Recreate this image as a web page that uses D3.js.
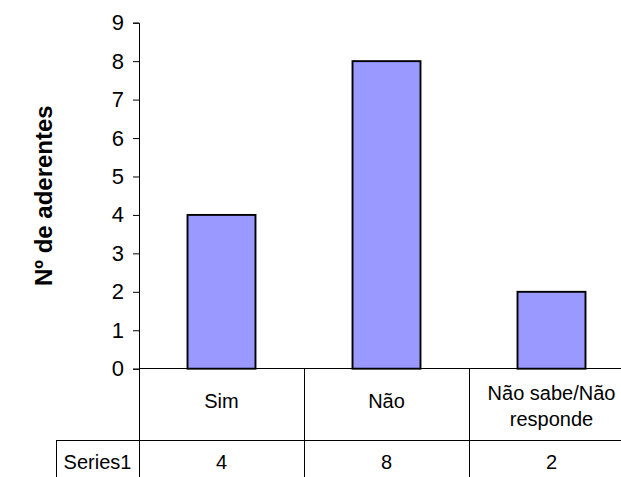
<!DOCTYPE html>
<html>
<head>
<meta charset="utf-8">
<script src="https://cdn.jsdelivr.net/npm/d3@7"></script>
<style>
  html, body { margin: 0; padding: 0; background: #fff; }
  svg { display: block; font-family: "Liberation Sans", Arial, sans-serif; }
</style>
</head>
<body>
<svg id="chart" width="621" height="477"></svg>
<script>
// Survey answers: number of members per answer
const categories = ["Sim", "Não", "Não sabe/Não responde"];
const categoryLines = [["Sim"], ["Não"], ["Não sabe/Não", "responde"]];
const seriesName = "Series1";
const values = [4, 8, 2];
const yTicks = [0, 1, 2, 3, 4, 5, 6, 7, 8, 9];
const yTitle = "Nº de aderentes";

const svg = d3.select("#chart");
const W = 621, H = 477;

const plot = { left: 139, right: 634, top: 22.7, bottom: 368.7 };
const rowTop = 440;
const headerLeft = 56;

// Category cells of the data table (no padding)
const xCell = d3.scaleBand().domain(categories).range([plot.left, plot.right]).padding(0);
// Bars sit inside the same categories with wide gaps
const xBar = d3.scaleBand().domain(categories).range([plot.left, plot.right])
  .paddingInner(0.588).paddingOuter(0.294);
const y = d3.scaleLinear().domain([0, 9]).range([plot.bottom, plot.top]);

// Bars
svg.append("g").selectAll("rect")
  .data(values)
  .join("rect")
  .attr("x", (d, i) => xBar(categories[i]))
  .attr("y", d => y(d))
  .attr("width", xBar.bandwidth())
  .attr("height", d => y(0) - y(d))
  .attr("fill", "#9999FF")
  .attr("stroke", "#000")
  .attr("stroke-width", 1.9);

// Value axis
const yAxis = d3.axisLeft(y).tickValues(yTicks).tickSize(6).tickPadding(9).tickFormat(d3.format("d"));
const gy = svg.append("g").attr("transform", `translate(${plot.left},0)`).call(yAxis);
gy.select(".domain").attr("stroke", "#000").attr("stroke-width", 1);
gy.selectAll(".tick line").attr("stroke", "#000");
gy.selectAll(".tick text")
  .attr("fill", "#000")
  .style("font-size", "22px")
  .style("font-family", "'Liberation Sans', Arial, sans-serif");

// Axis title
svg.append("text")
  .attr("transform", `translate(52,${(plot.top + plot.bottom) / 2}) rotate(-90)`)
  .attr("text-anchor", "middle")
  .style("font-size", "24px")
  .style("font-weight", "bold")
  .text(yTitle);

// Data table grid
const grid = svg.append("g").attr("stroke", "#000").attr("stroke-width", 1).attr("shape-rendering", "crispEdges");
grid.append("line").attr("x1", plot.left).attr("x2", W).attr("y1", plot.bottom).attr("y2", plot.bottom);
grid.append("line").attr("x1", headerLeft).attr("x2", W).attr("y1", rowTop).attr("y2", rowTop);
grid.append("line").attr("x1", headerLeft).attr("x2", headerLeft).attr("y1", rowTop).attr("y2", H);
grid.selectAll("line.sep")
  .data(categories)
  .join("line")
  .attr("class", "sep")
  .attr("x1", d => xCell(d)).attr("x2", d => xCell(d))
  .attr("y1", plot.bottom).attr("y2", H);

// Category labels (wrapped where needed)
const catG = svg.append("g").style("font-size", "20px").attr("text-anchor", "middle");
categories.forEach((c, i) => {
  const lines = categoryLines[i];
  const cx = xCell(c) + xCell.bandwidth() / 2;
  const mid = (plot.bottom + rowTop) / 2;
  const lh = 26;
  const shift = lines.length > 1 ? 2 : -3;
  const t = catG.append("text").attr("x", cx);
  lines.forEach((ln, k) => {
    t.append("tspan")
      .attr("x", cx)
      .attr("y", mid + shift + (k - (lines.length - 1) / 2) * lh)
      .attr("dy", "0.35em")
      .text(ln);
  });
});

// Series row
const rowMid = 462;
svg.append("text")
  .attr("x", (headerLeft + plot.left) / 2)
  .attr("y", rowMid).attr("dy", "0.35em")
  .attr("text-anchor", "middle")
  .style("font-size", "20px")
  .text(seriesName);
svg.append("g").selectAll("text")
  .data(values)
  .join("text")
  .attr("x", (d, i) => xCell(categories[i]) + xCell.bandwidth() / 2)
  .attr("y", rowMid).attr("dy", "0.35em")
  .attr("text-anchor", "middle")
  .style("font-size", "20px")
  .text(d => d);
</script>
</body>
</html>
